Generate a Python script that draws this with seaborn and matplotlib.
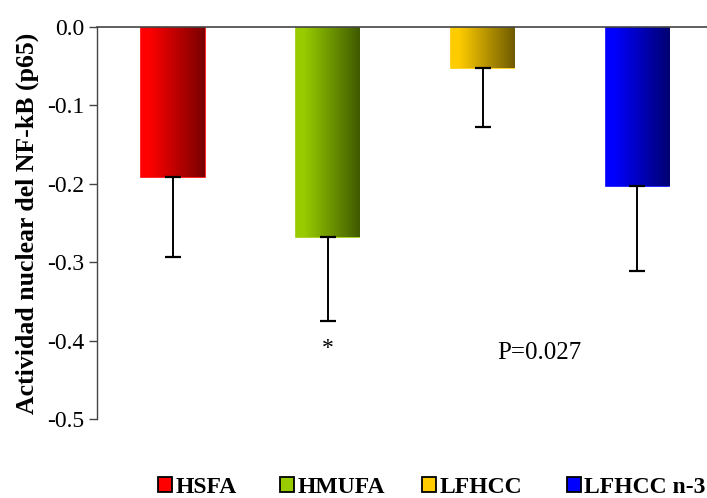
import numpy as np
import pandas as pd
import matplotlib
matplotlib.use("Agg")
import matplotlib.pyplot as plt
import seaborn as sns
from matplotlib.colors import LinearSegmentedColormap
from matplotlib.patches import Patch

groups = ["HSFA", "HMUFA", "LFHCC", "LFHCC n-3"]
values = [-0.191, -0.268, -0.052, -0.203]
errors = [0.102, 0.107, 0.076, 0.108]
light_colors = ["#FF0000", "#99CC00", "#FFCC00", "#0000FF"]
dark_colors = ["#780000", "#3F5A00", "#6E5A00", "#000070"]
yticks = [0.0, -0.1, -0.2, -0.3, -0.4, -0.5]
ylabel = "Actividad nuclear del NF-kB (p65)"

sns.set_theme(style="white")
plt.rcParams["font.family"] = ["Liberation Serif", "DejaVu Serif"]
plt.rcParams["text.color"] = "black"
plt.rcParams["axes.labelcolor"] = "black"
plt.rcParams["ytick.color"] = "black"

df = pd.DataFrame({"group": groups, "value": values})

fig = plt.figure(figsize=(7.07, 4.98), dpi=100)
ax = fig.add_axes([0.1372, 0.1586, 0.8628, 0.7872])

sns.barplot(data=df, x="group", y="value", hue="group", palette=light_colors,
            width=0.41, legend=False, ax=ax, errorbar=None, saturation=1)

ax.set_ylim(-0.5, 0.0)
ax.set_xlim(-0.49, 3.45)

# gradient fill for each bar
for patch, lc, dc in zip(ax.patches, light_colors, dark_colors):
    x0, y0 = patch.get_x(), patch.get_y()
    w, h = patch.get_width(), patch.get_height()
    cmap = LinearSegmentedColormap.from_list("g", [(0, lc), (0.12, lc), (1, dc)])
    grad = np.linspace(0, 1, 256).reshape(1, -1)
    im = ax.imshow(grad, cmap=cmap, aspect="auto",
                   extent=[x0, x0 + w, y0 + h, y0], zorder=2)
    im.set_clip_path(patch)
    patch.set_edgecolor(lc)
    patch.set_linewidth(1.2)
    patch.set_zorder(1)

# downward error bars
xs = [p.get_x() + p.get_width() / 2 for p in ax.patches]
ax.errorbar(xs, values, yerr=[errors, [0] * len(errors)], fmt="none",
            ecolor="black", elinewidth=1.4, capsize=6, capthick=1.6, zorder=3)

ax.set_xlim(-0.49, 3.45)
ax.set_ylim(-0.5, 0.0)
ax.set_yticks(yticks)
ax.set_yticklabels([f"{t:.1f}" for t in yticks], fontsize=17)
ax.set_xticks([])
ax.set_xlabel("")
ax.set_ylabel(ylabel, fontsize=18.5, fontweight="bold", labelpad=6)

for s in ["right", "bottom"]:
    ax.spines[s].set_visible(False)
ax.spines["left"].set_color("#444444")
ax.spines["top"].set_color("#444444")
ax.spines["left"].set_linewidth(1.0)
ax.spines["top"].set_linewidth(1.2)
ax.spines["top"].set_zorder(5)
ax.tick_params(axis="y", left=True, length=6, width=1, color="#444444", pad=3)

ax.text(xs[1], -0.41, "*", ha="center", va="center", fontsize=17)
ax.text(2.37, -0.416, "P=0.027", ha="center", va="center", fontsize=18)

# legend entries placed individually (uneven spacing as in the reference)
legend_x = [158, 280, 422, 567]
for lx, c, g in zip(legend_x, light_colors, groups):
    h = Patch(facecolor=c, edgecolor="black", linewidth=1.3)
    fig.legend([h], [g], loc="center left", bbox_to_anchor=(lx / 707, 0.022),
               frameon=False, prop={"weight": "bold", "size": 17},
               handlelength=0.6, handleheight=0.6, handletextpad=0.13,
               borderpad=0, borderaxespad=0)

fig.savefig("out.png", dpi=100)
